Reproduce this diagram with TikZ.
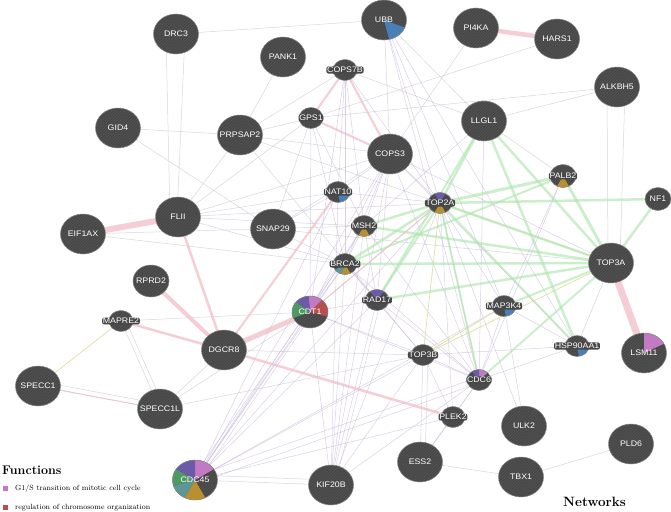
\documentclass[tikz,border=0pt]{standalone}
\usepackage{fontspec}
\newfontfamily\lab[FakeStretch=1.1]{Liberation Sans}
\usetikzlibrary{shapes.geometric,patterns}
\pgfdeclarelayer{bg}
\pgfsetlayers{bg,main}
\definecolor{nodec}{HTML}{474747}
\definecolor{hatchc}{HTML}{555555}
\definecolor{ringc}{HTML}{8A8A8A}
\definecolor{coexp}{HTML}{C2B1D8}
\definecolor{grayl}{HTML}{CACAD2}
\definecolor{genc}{HTML}{A9E5A9}
\definecolor{physc}{HTML}{F2B9C2}
\definecolor{domc}{HTML}{E2DDA0}
\definecolor{pinkc}{HTML}{C27BC2}
\definecolor{redc}{HTML}{B5504C}
\definecolor{purplec}{HTML}{6A5AA8}
\definecolor{greenc}{HTML}{4F9A62}
\definecolor{tealc}{HTML}{5E9696}
\definecolor{goldc}{HTML}{B89030}
\definecolor{bluec}{HTML}{4A7FB5}
\newcommand\nl[1]{\makebox[0pt][c]{#1}}
\newcommand\pieseg[3]{\fill[#1] (path picture bounding box.center) -- +(#2:40pt) -- +({(#2+#3)/2}:40pt) -- +(#3:40pt) -- cycle;}
\begin{document}
\begin{tikzpicture}[x=1pt,y=-1pt,
  gene/.style={ellipse, preaction={fill=nodec}, pattern=north east lines, pattern color=hatchc,
    draw=ringc, line width=0.5pt, inner sep=0pt, text=white, font=\lab\fontsize{8}{9}\selectfont},
  big/.style={gene, minimum width=45pt, minimum height=40pt},
  mid/.style={gene, minimum width=36pt, minimum height=32pt},
  sml/.style={gene, minimum width=24pt, minimum height=21pt},
  halo/.style={fill=nodec, rounded corners=2pt, inner sep=0.7pt, text=white, font=\lab\fontsize{8}{9}\selectfont},
  sl/.style={sml, label={[halo]center:#1}},
  ecoex/.style={draw=coexp, line width=0.5pt, draw opacity=0.6},
  egray/.style={draw=grayl, line width=0.5pt, draw opacity=0.75},
  egen/.style={draw=genc, draw opacity=0.6},
  ephys/.style={draw=physc, draw opacity=0.7},
  edom/.style={draw=domc, line width=0.7pt}]
\useasboundingbox (0,0) rectangle (671,511);
% nodes
\node[big] (DRC3) at (176,34) {\nl{DRC3}};
\node[big] (PANK1) at (283,57) {\nl{PANK1}};
\node[big, path picture={\pieseg{bluec}{-75}{-20}}] (UBB) at (384,20) {\nl{UBB}};
\node[big] (PI4KA) at (476,28) {\nl{PI4KA}};
\node[big] (HARS1) at (557,39) {\nl{HARS1}};
\node[sl=COPS7B] (COPS7B) at (345,70) {};
\node[sl=GPS1] (GPS1) at (311,118) {};
\node[big] (GID4) at (118,128) {\nl{GID4}};
\node[big] (PRPSAP2) at (240,135) {\nl{PRPSAP2}};
\node[big] (LLGL1) at (484,121) {\nl{LLGL1}};
\node[big] (ALKBH5) at (617,87) {\nl{ALKBH5}};
\node[big] (COPS3) at (390,154) {\nl{COPS3}};
\node[sl=PALB2, minimum width=26pt, minimum height=23pt, path picture={\pieseg{goldc}{-120}{-60}}] (PALB2) at (563,176) {};
\node[sl=NF1, minimum width=26pt, minimum height=23pt] (NF1) at (658,199) {};
\node[sl=NAT10, path picture={\pieseg{bluec}{-80}{-20}}] (NAT10) at (338,192) {};
\node[sl=TOP2A, path picture={\pieseg{purplec}{60}{120}\pieseg{goldc}{-120}{-60}}] (TOP2A) at (440,203) {};
\node[sl=MSH2, path picture={\pieseg{goldc}{-120}{-60}}] (MSH2) at (364,226) {};
\node[big] (FLII) at (178,217) {\nl{FLII}};
\node[big] (EIF1AX) at (83,234) {\nl{EIF1AX}};
\node[big] (SNAP29) at (273,229) {\nl{SNAP29}};
\node[sl=BRCA2, path picture={\pieseg{goldc}{-110}{-60}\pieseg{tealc}{-150}{-110}}] (BRCA2) at (345,264) {};
\node[big] (TOP3A) at (611,263) {\nl{TOP3A}};
\node[mid] (RPRD2) at (151,281) {\nl{RPRD2}};
\node[sl=RAD17, path picture={\pieseg{purplec}{50}{130}}] (RAD17) at (377,300) {};
\node[sl=MAP3K4, path picture={\pieseg{bluec}{-80}{-20}}] (MAP3K4) at (504,306) {};
\node[mid, path picture={\pieseg{pinkc}{45}{95}\pieseg{redc}{-15}{45}\pieseg{purplec}{95}{145}\pieseg{greenc}{145}{200}}] (CDT1) at (310,312) {\nl{CDT1}};
\node[sl=MAPRE2] (MAPRE2) at (121,321) {};
\node[big] (DGCR8) at (224,350) {\nl{DGCR8}};
\node[sl=HSP90AA1, path picture={\pieseg{bluec}{-80}{-20}}] (HSP90AA1) at (577,346) {};
\node[big, path picture={\pieseg{pinkc}{25}{90}}] (LSM11) at (644,353) {\nl{LSM11}};
\node[sl=TOP3B] (TOP3B) at (423,355) {};
\node[big] (SPECC1) at (38,386) {\nl{SPECC1}};
\node[big] (SPECC1L) at (160,409) {\nl{SPECC1L}};
\node[sl=CDC6, path picture={\pieseg{pinkc}{40}{90}\pieseg{purplec}{90}{130}}] (CDC6) at (479,380) {};
\node[sl=PLEK2] (PLEK2) at (453,417) {};
\node[big] (ULK2) at (524,426) {\nl{ULK2}};
\node[big] (PLD6) at (631,444) {\nl{PLD6}};
\node[big] (ESS2) at (420,462) {\nl{ESS2}};
\node[big] (TBX1) at (521,477) {\nl{TBX1}};
\node[big] (KIF20B) at (331,485) {\nl{KIF20B}};
\node[big, path picture={\pieseg{pinkc}{30}{90}\pieseg{goldc}{-120}{-60}\pieseg{tealc}{-165}{-120}\pieseg{greenc}{150}{195}\pieseg{purplec}{90}{150}}] (CDC45) at (195,480) {\nl{CDC45}};
% edges
\begin{pgfonlayer}{bg}
\fill[white] (0,0) rectangle (671,511);
\foreach \a/\b in {DRC3/UBB, PANK1/PRPSAP2, GID4/PRPSAP2, GID4/SNAP29, PRPSAP2/FLII, PRPSAP2/COPS3,
  PRPSAP2/RAD17, PRPSAP2/TOP2A, GPS1/FLII, GPS1/SNAP29, GPS1/PRPSAP2, FLII/COPS3, FLII/NAT10,
  EIF1AX/MSH2, EIF1AX/BRCA2, SNAP29/NAT10, SNAP29/COPS3, SNAP29/BRCA2, SNAP29/TOP3A, COPS7B/LLGL1,
  COPS7B/PRPSAP2, UBB/COPS3, UBB/LLGL1, PI4KA/COPS3, HARS1/GPS1, ALKBH5/LLGL1, ALKBH5/GPS1,
  LLGL1/PALB2, DGCR8/TOP3B, DGCR8/SPECC1L, MAPRE2/SPECC1L, MAPRE2/CDT1, SPECC1L/CDT1, SPECC1L/TOP3B,
  SPECC1/SPECC1L, PLEK2/ESS2, ESS2/TBX1, TBX1/PLD6, ULK2/MAP3K4, CDC6/PLEK2, TOP3B/ESS2}
  \draw[egray] (\a) -- (\b);
\draw[egray] ([xshift=-10pt]DRC3.center) -- ([xshift=-8pt]FLII.center);
\draw[egray] ([xshift=9pt]DRC3.center) -- ([xshift=-1pt]FLII.center);
\draw[egray] ([xshift=-10pt]ALKBH5.center) -- ([xshift=-3pt]TOP3A.center);
\draw[egray] ([xshift=8pt]ALKBH5.center) -- ([xshift=9pt]TOP3A.center);
\draw[egray] ([yshift=5pt]SPECC1.center) -- ([yshift=5pt]SPECC1L.center);
\draw[egray] ([xshift=5pt]MAPRE2.center) -- ([xshift=5pt]SPECC1L.center);
\draw[egray] ([xshift=5pt]TOP3B.center) -- ([xshift=5pt]ESS2.center);
\foreach \a/\b in {COPS3/MSH2, COPS3/BRCA2, COPS3/TOP2A, COPS3/CDT1, COPS3/CDC45, COPS3/RAD17,
  COPS3/TOP3A, COPS3/CDC6, COPS3/KIF20B, COPS3/HSP90AA1, COPS3/NAT10,
  TOP2A/CDC45, TOP2A/KIF20B, TOP2A/CDT1, TOP2A/PLEK2, TOP2A/ULK2, TOP2A/MAP3K4, TOP2A/CDC6,
  MSH2/CDT1, MSH2/CDC45, MSH2/KIF20B, MSH2/BRCA2, MSH2/RAD17, MSH2/CDC6,
  BRCA2/CDT1, BRCA2/CDC45, BRCA2/KIF20B, BRCA2/RAD17, BRCA2/CDC6, BRCA2/TOP3B,
  RAD17/CDC45, RAD17/KIF20B, RAD17/CDC6, RAD17/TOP3B,
  CDT1/CDC45, CDT1/KIF20B, CDT1/CDC6, CDT1/TOP3B, CDT1/RAD17,
  CDC45/TOP3B, CDC45/PLEK2, CDC45/MAP3K4, CDC45/KIF20B, KIF20B/CDC6, KIF20B/TOP3B,
  NAT10/CDC45, NAT10/TOP2A, NAT10/KIF20B, UBB/TOP2A, UBB/HSP90AA1, UBB/MAP3K4, UBB/CDC6,
  COPS7B/NAT10, COPS7B/MSH2, COPS7B/BRCA2, COPS7B/CDT1, COPS7B/TOP2A,
  GPS1/MSH2, GPS1/BRCA2, GPS1/CDT1, LLGL1/CDC6, LLGL1/MSH2, FLII/TOP2A, FLII/BRCA2, FLII/MSH2,
  TOP3B/HSP90AA1, TOP3B/CDC6, CDC6/MAP3K4, MAP3K4/HSP90AA1, HSP90AA1/TOP3A, HSP90AA1/CDC6,
  PALB2/CDC6, PALB2/MAP3K4, CDC6/ESS2, TOP3B/PLEK2}
  \draw[ecoex] (\a) -- (\b);
\draw[ecoex] ([yshift=-4pt]CDC45.center) -- ([yshift=-3pt]CDC6.center);
\draw[ecoex] ([yshift=4pt]CDC45.center) -- ([yshift=3pt]CDC6.center);
\draw[ecoex] ([yshift=5pt]CDC45.center) -- ([yshift=5pt]KIF20B.center);
\draw[ecoex] ([xshift=4pt]CDC45.center) -- ([xshift=4pt]CDT1.center);
\draw[ecoex] ([xshift=-4pt]CDC45.center) -- ([xshift=-4pt]BRCA2.center);
\draw[ecoex] ([xshift=4pt]KIF20B.center) -- ([xshift=4pt]RAD17.center);
\foreach \a/\b in {MAPRE2/SPECC1, TOP3B/TOP3A, TOP2A/TOP3B, TOP3B/MAP3K4, TOP2A/TOP3A}
  \draw[edom] (\a) -- (\b);
\foreach \a/\b/\w in {LLGL1/TOP2A/2.5, LLGL1/HSP90AA1/2.5, LLGL1/TOP3A/2.5, LLGL1/RAD17/2,
  PALB2/TOP2A/3, PALB2/TOP3A/3, NF1/TOP2A/2.5, NF1/TOP3A/2.5, TOP2A/TOP3A/2.5, MSH2/TOP3A/2.5,
  BRCA2/TOP3A/2.5, RAD17/TOP3A/2.5, CDC6/TOP3A/2, MAP3K4/TOP3A/2, TOP2A/MSH2/2.5, TOP2A/BRCA2/2.5,
  TOP2A/RAD17/2, TOP2A/CDC6/2, TOP2A/HSP90AA1/2, BRCA2/PALB2/2}
  \draw[egen, line width=\w pt] (\a) -- (\b);
\foreach \a/\b/\w in {EIF1AX/FLII/6, PI4KA/HARS1/4.5, TOP3A/LSM11/7, RPRD2/DGCR8/4, DGCR8/CDT1/5,
  MAPRE2/DGCR8/2.5, FLII/DGCR8/2.5, DGCR8/NAT10/2, DGCR8/PLEK2/2.5, COPS7B/GPS1/2, COPS7B/COPS3/2,
  GPS1/COPS3/2, TOP2A/CDT1/1, SPECC1/SPECC1L/1}
  \draw[ephys, line width=\w pt] (\a) -- (\b);
\end{pgfonlayer}
% legend
\node[anchor=west, inner sep=0pt, font=\bfseries\fontsize{12.5}{14}\selectfont] (functs) at (2,470) {Functions};
\node[fill=pinkc, minimum size=5pt, inner sep=0pt] (sqa) at (5.5,488.5) {};
\node[anchor=west, inner sep=0pt, font=\fontsize{7.5}{9}\selectfont] (fa) at (15,488.5) {G1/S transition of mitotic cell cycle};
\node[fill=redc, minimum size=5pt, inner sep=0pt] (sqb) at (5.5,507.5) {};
\node[anchor=west, inner sep=0pt, font=\fontsize{7.5}{9}\selectfont] (fb) at (15,507.5) {regulation of chromosome organization};
\node[anchor=west, inner sep=0pt, font=\bfseries\fontsize{13.5}{15}\selectfont] (netw) at (563,502) {Networks};
\end{tikzpicture}
\end{document}
